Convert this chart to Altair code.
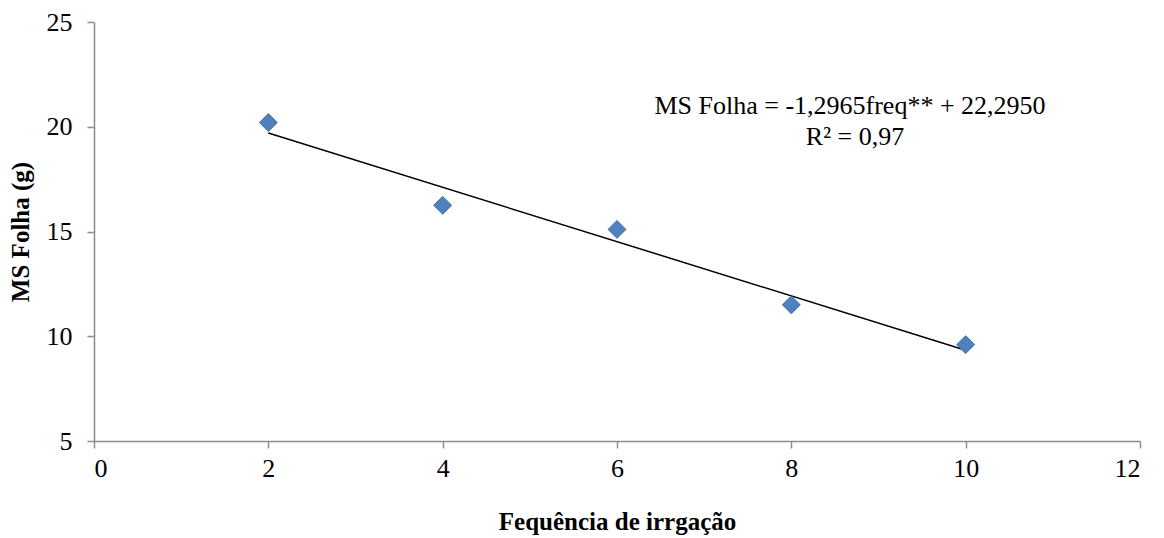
import altair as alt
import pandas as pd

# Irrigation frequency vs leaf dry mass
freq = [2, 4, 6, 8, 10]
ms_folha = [20.2, 16.25, 15.1, 11.5, 9.6]

# Fitted regression: MS Folha = -1,2965 freq + 22,2950
slope = -1.2965
intercept = 22.2950
fit_x = [2, 10]
fit_y = [slope * v + intercept for v in fit_x]

eq_lines = ["MS Folha = -1,2965freq** + 22,2950", "R² = 0,97"]

pts = pd.DataFrame({"freq": freq, "ms": ms_folha})
fit = pd.DataFrame({"freq": fit_x, "ms": fit_y})

FONT = "Liberation Serif, Times New Roman, serif"

x_scale = alt.Scale(domain=[0, 12], nice=False, zero=False)
y_scale = alt.Scale(domain=[5, 25], nice=False, zero=False)

x_axis = alt.Axis(
    title="Fequência de irrgação",
    values=[0, 2, 4, 6, 8, 10, 12],
    format="d",
    grid=False,
    tickSize=7,
    labelPadding=7,
    titlePadding=28,
)
y_axis = alt.Axis(
    title="MS Folha (g)",
    values=[5, 10, 15, 20, 25],
    format="d",
    grid=False,
    tickSize=7,
    labelPadding=15,
    titlePadding=13,
)

points = alt.Chart(pts).mark_point(
    shape="diamond", filled=True, size=320, color="#4F81BD",
    stroke="#3F6FA8", strokeWidth=1, opacity=1,
).encode(
    x=alt.X("freq:Q", scale=x_scale, axis=x_axis),
    y=alt.Y("ms:Q", scale=y_scale, axis=y_axis),
)

line = alt.Chart(fit).mark_line(color="black", strokeWidth=1.5).encode(
    x=alt.X("freq:Q", scale=x_scale),
    y=alt.Y("ms:Q", scale=y_scale),
)

label1 = alt.Chart(pd.DataFrame({"t": [eq_lines[0]]})).mark_text(
    font=FONT, fontSize=26, color="black", align="center", baseline="middle",
).encode(text="t:N", x=alt.value(756), y=alt.value(84))

label2 = alt.Chart(pd.DataFrame({"t": [eq_lines[1]]})).mark_text(
    font=FONT, fontSize=26, color="black", align="center", baseline="middle",
).encode(text="t:N", x=alt.value(761), y=alt.value(115))

chart = (
    alt.layer(line, points, label1, label2)
    .properties(
        width=1046,
        height=419,
        autosize=alt.AutoSizeParams(type="none"),
        padding={"left": 94, "top": 22, "right": 24, "bottom": 97},
        background="white",
    )
    .configure_view(stroke=None)
    .configure_axis(
        domainColor="#8C8C8C",
        tickColor="#8C8C8C",
        domainWidth=1.5,
        tickWidth=1.5,
        labelFont=FONT,
        labelFontSize=26,
        labelColor="black",
        titleFont=FONT,
        titleFontSize=25,
        titleFontWeight="bold",
        titleColor="black",
    )
)

chart.save("out.html", embed_options={"renderer": "svg", "actions": False})
